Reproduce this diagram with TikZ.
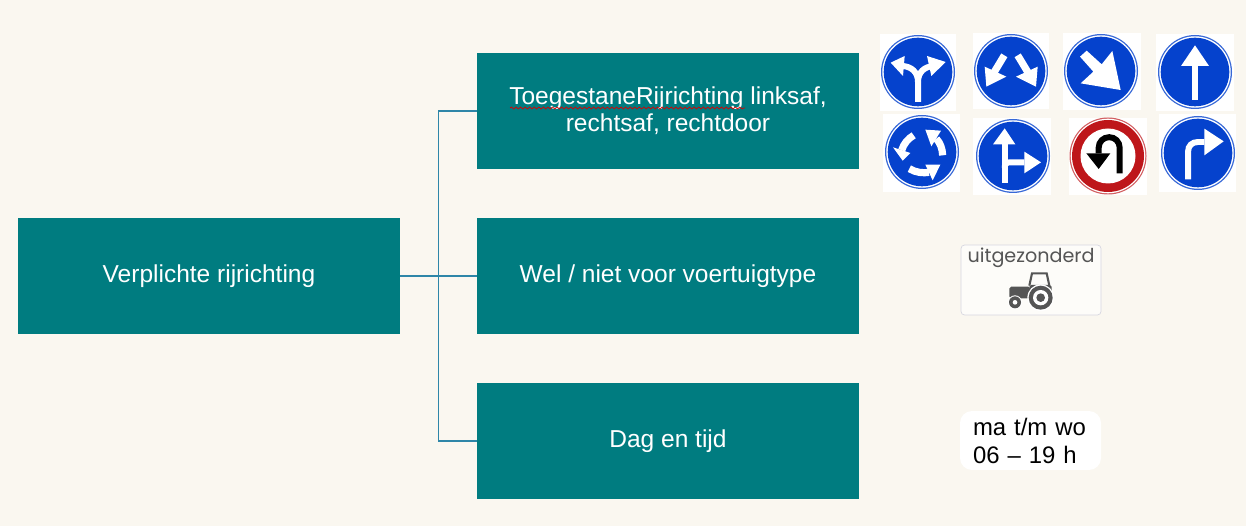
\documentclass[tikz,border=0pt]{standalone}
\usepackage{fontspec}
\setmainfont{Liberation Sans}
\newfontfamily\bordfont{Poppins}
\usetikzlibrary{decorations.pathmorphing}
\definecolor{papier}{RGB}{250,247,240}
\definecolor{teal}{RGB}{0,124,128}
\definecolor{lijn}{RGB}{46,134,168}
\definecolor{bordblauw}{RGB}{5,66,205}
\definecolor{bordrood}{RGB}{190,22,26}
\definecolor{bordgrijs}{RGB}{85,85,85}
\tikzset{
  vak/.style={fill=teal,text=white,minimum width=7.64cm,minimum height=2.32cm,align=center,inner sep=0pt,
    font=\fontsize{13.95}{15.2}\selectfont},
  link/.style={draw=lijn,line width=.6pt},
  pijl/.style={draw=white,line width=3.4pt},
  dikpijl/.style={draw=white,line width=4.1pt},
  punt/.style={fill=white}
}
\newcommand{\blauwbord}[6]{% centre, then corners of the white square
  \fill[white](#3,#4)rectangle(#5,#6);
  \fill[bordblauw!80!white](#1,#2)circle(37);
  \fill[white](#1,#2)circle(35.7);
  \fill[bordblauw](#1,#2)circle(34.3);
}
\begin{document}
\begin{tikzpicture}[x=.02cm,y=-.02cm]
\useasboundingbox(0,0)rectangle(1246,526);
\fill[papier](0,0)rectangle(1246,526);
\node[vak](root)at(209,276){Verplichte rijrichting};
\node[vak](richting)at(668,111){ToegestaneRijrichting linksaf,\\rechtsaf, rechtdoor};
\node[vak](voertuig)at(668,276){Wel / niet voor voertuigtype};
\node[vak](tijd)at(668,441){Dag en tijd};
\coordinate(bus)at(438.5,276);
\draw[link](root.east)--(voertuig.west);
\draw[link](bus)|-(richting.west);
\draw[link](bus)|-(tijd.west);
\coordinate(golfa)at(510,108);
\coordinate(golfb)at(745,108);
\draw[red!85!black,line width=.4pt,decorate,decoration={snake,amplitude=.55pt,segment length=2.6pt}](golfa)--(golfb);
% bord 1
\blauwbord{918}{72}{880}{34}{956}{111}
\begin{scope}[shift={(918,72)},scale=1/3]
  \draw[pijl](0,90)--(0,30)..controls(0,0)and(-20,-16)..(-46,-18);
  \draw[pijl](0,30)..controls(0,0)and(20,-16)..(46,-18);
  \fill[punt](-82,-28)--(-40,-48)--(-45,12)--cycle;
  \fill[punt](83,-30)--(27,-48)--(40,12)--cycle;
\end{scope}
% bord 2
\blauwbord{1011}{71}{973}{33}{1049}{109}
\begin{scope}[shift={(1011,71)},scale=1/3]
  \draw[dikpijl](-20,-47)--(-52,6);
  \draw[dikpijl](20,-47)--(52,6);
  \fill[punt](-74,47)--(-79,-13)--(-14,17)--cycle;
  \fill[punt](75,47)--(80,-13)--(15,17)--cycle;
\end{scope}
% bord 3
\blauwbord{1101}{71}{1063}{33}{1141}{110}
\begin{scope}[shift={(1101,71)},scale=1/3]
  \fill[punt](-63,-43)--(-43,-61)--(2,-20)--(34,-60)--(59,57)--(-61,37)--(-23,2)--cycle;
\end{scope}
% bord 4
\blauwbord{1195}{72}{1156}{34}{1234}{111}
\begin{scope}[shift={(1195,72)},scale=1/3]
  \draw[pijl](0,-18)--(0,85);
  \fill[punt](0,-80)--(-42,-18)--(42,-18)--cycle;
\end{scope}
% bord 5
\blauwbord{922}{152}{883}{114}{960}{192}
\begin{scope}[shift={(922,152)},scale=1/3]
  \draw[dikpijl](-25,-50)..controls(-42,-40)and(-55,-25)..(-61,-5);
  \fill[punt](-58,26)--(-87,-14)--(-35,3)--cycle;
  \draw[dikpijl](62,10)..controls(61,-10)and(55,-27)..(43,-40);
  \fill[punt](10,-67)--(57,-64)--(28,-17)--cycle;
  \draw[dikpijl](-38,50)..controls(-20,62)and(5,64)..(21,61);
  \fill[punt](55,38)--(10,38)--(32,85)--cycle;
\end{scope}
% bord 6
\blauwbord{1013}{156}{973}{118}{1051}{195}
\begin{scope}[shift={(1013,156)},scale=1/3]
  \draw[pijl](-25,-35)--(-25,82);
  \draw[pijl](-25,35)..controls(-25,25)and(-20,19)..(-10,19)--(34,19);
  \fill[punt](-25,-83)--(-60,-35)--(7,-35)--cycle;
  \fill[punt](84,19)--(34,-13)--(34,52)--cycle;
\end{scope}
% bord 7
\fill[white](1069,118)rectangle(1147,195);
\fill[bordrood!70!white](1108,156)circle(38.5);
\fill[white](1108,156)circle(37.3);
\fill[bordrood](1108,156)circle(36);
\fill[white](1108,156)circle(27.5);
\begin{scope}[shift={(1108,156)},scale=1/3]
  \draw[black,line width=3.4pt](35,52)--(35,-25)arc(0:-180:31.5 and 31.5)--(-28,-8);
  \fill[black](-28,39)--(-65,-8)--(7,-8)--cycle;
\end{scope}
% bord 8
\blauwbord{1198}{153}{1159}{114}{1236}{192}
\begin{scope}[shift={(1198,153)},scale=1/3]
  \draw[pijl](-30,79)--(-30,-3)..controls(-30,-22)and(-18,-33)..(0,-33)--(19,-33);
  \fill[punt](77,-35)--(19,-73)--(19,7)--cycle;
\end{scope}
% onderbord voertuig
\node[draw={rgb,255:red,214;green,214;blue,224},fill=white!60!papier,rounded corners=2pt,minimum width=2.8cm,minimum height=1.4cm,inner sep=0pt](uitgez)at(1031,280){};
\node[text=bordgrijs,inner sep=0pt,font=\bordfont\fontsize{10.9}{12}\selectfont](uitgeztekst)at(1031,258){uitgezonderd};
\begin{scope}[shift={(950,235)},scale=1/3,bordgrijs]
  \fill[rounded corners=1pt](178,155)rectangle(240,190);
  \fill[rounded corners=1pt](238,150)rectangle(305,175);
  \draw[line width=1.2pt](238,152)--(246,115)--(290,115)--(298,152);
  \fill[white](272,188)circle(40);
  \fill(272,188)circle(36);
  \fill[white](272,188)circle(23);
  \fill(272,188)circle(13);
  \fill[white](195,202)circle(21);
  \fill(195,202)circle(18);
  \fill[white](195,202)circle(7);
\end{scope}
% onderbord tijd
\node[fill=white,rounded corners=2.4mm,minimum width=2.82cm,minimum height=1.18cm,inner sep=0pt,align=left,
  font=\fontsize{13.6}{15.9}\selectfont,text width=2.3cm](tijdbord)at(1030.5,440.5){ma t/m wo\\06 – 19 h};
\end{tikzpicture}
\end{document}
